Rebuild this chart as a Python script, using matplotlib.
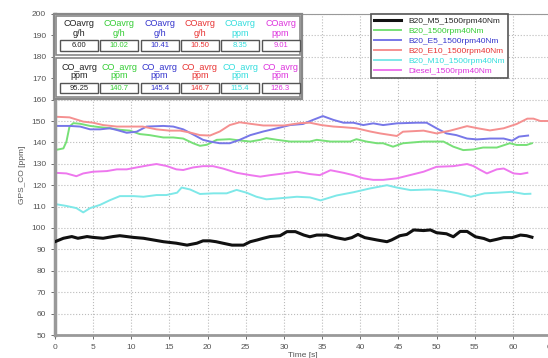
import numpy as np
import matplotlib
matplotlib.use('Agg')
import matplotlib.pyplot as plt
from matplotlib.patches import Rectangle

plt.rcParams['font.family'] = ['Liberation Sans', 'DejaVu Sans']

W, H = 548, 358

## series (time s, GPS_CO ppm)
t_m5 = [0, 1.1, 2.2, 3, 4.2, 5, 6.3, 7.6, 8.5, 9.4, 10.3, 11.6, 12.9, 14.2, 15.9, 17.3, 18.6, 19.4, 20.3, 21.1, 22, 23.2,
        24.7, 25.6, 26.5, 27.3, 28.2, 29.5, 30.4, 31.5, 32.6, 33.4, 34.3, 35.6, 36.8, 38, 38.9, 39.7, 40.6, 42.2, 43.5,
        44.1, 45.2, 46.1, 47, 48.3, 49.2, 50, 51.3, 52.2, 53.1, 54, 55.1, 56.2, 57, 57.9, 58.8, 59.9, 61, 61.8, 62.5]
co_m5 = [93.6, 95.2, 96, 95.2, 96, 95.6, 95.2, 96, 96.4, 96, 95.6, 95.2, 94.4, 93.6, 92.9, 92, 92.9, 94, 94, 93.6, 92.9, 92,
         92, 93.6, 94.4, 95.2, 96, 96.4, 98.3, 98.3, 96.7, 95.9, 96.7, 96.7, 95.5, 94.7, 95.5, 97, 95.5, 94.4, 93.6,
         94.4, 96.4, 97, 99.1, 98.8, 99.1, 97.8, 97.3, 95.9, 98.4, 98.4, 95.9, 95.1, 94, 94.7, 95.5, 95.5, 96.7, 96.4, 95.7]

t_b20 = [0, 1.1, 1.5, 1.9, 2.4, 3.3, 4.6, 5.9, 7.2, 8.5, 9.8, 11.1, 12.4, 14.2, 15.5, 16.8, 18.1, 19, 19.9, 21.2, 22.9,
         24.2, 25.6, 26.9, 27.7, 29.1, 30.8, 33.4, 34.3, 36.1, 38.7, 39.5, 40.8, 42.2, 43, 44.3, 45.6, 48.3, 50.9, 52.2,
         53.5, 54.8, 56.1, 57.9, 59.6, 60.5, 61.8, 62.5]
co_b20 = [136.4, 137.2, 140.4, 147.4, 149, 148.7, 147.7, 147.1, 146.6, 145.9, 145.5, 143.9, 143.4, 142.3, 142.3, 141.8,
          139.6, 138.4, 138.9, 141.2, 141.5, 140.9, 140.4, 141.2, 142, 141.2, 140.4, 140.4, 141.2, 140.4, 140.4, 141.5,
          140.4, 139.6, 139.6, 138, 139.6, 140.4, 140.4, 138, 136.4, 136.7, 137.6, 137.6, 139.6, 138.8, 138.8, 139.6]

t_e5 = [0, 1.9, 3.3, 4.6, 5.9, 7.2, 8.1, 9.4, 10.7, 12, 14.2, 15.5, 16.8, 18.1, 19.4, 20.3, 21.6, 22.9, 24.2, 25.6, 27.3,
        29.1, 30.8, 32.5, 33.8, 35.1, 36.5, 37.8, 39.1, 40.4, 41.7, 43, 44.8, 47.4, 48.7, 50, 51.3, 52.6, 54, 55.3, 57,
        58.8, 59.9, 60.8, 62]
co_e5 = [147.7, 147.7, 147.4, 146.1, 146.1, 146.6, 145.8, 144.5, 145, 147.4, 147.7, 147.4, 146.1, 143.7, 141.2, 140.4,
         139.6, 139.6, 141.2, 143.4, 145.1, 146.6, 148.1, 148.6, 150.5, 152.3, 150.5, 149.2, 149.2, 148.1, 148.9, 148.1,
         148.9, 149.2, 149.2, 146.6, 144.2, 143.4, 141.8, 141.4, 141.8, 141.8, 140.8, 142.7, 143.2]

t_e10 = [0, 1.9, 3.7, 5, 6.3, 8.1, 10.2, 11.5, 13.3, 15, 16.4, 17.7, 19, 20.3, 21.6, 22.9, 24.2, 25.6, 27.3, 30, 32.1,
         33.4, 34.9, 36.5, 37.8, 39.5, 41.3, 42.6, 44.8, 45.6, 48.3, 50, 51.8, 54, 55.4, 57, 58.8, 60.5, 61.9, 62.7,
         63.6, 65]
co_e10 = [152, 151.7, 149.7, 149.2, 148.1, 147.4, 147.4, 147.4, 146.1, 145.5, 145.5, 144.6, 143.4, 143.2, 145.1, 148.1,
          149.4, 148.7, 147.9, 147.9, 149, 149.2, 148.1, 147.4, 147.1, 146.6, 145.1, 144.2, 143, 145, 145.5, 144.2, 145.5,
          147.6, 146.6, 145.6, 146.6, 148.6, 151.1, 151.1, 150, 150]

t_m10 = [0, 1.5, 2.8, 3.7, 4.6, 5.9, 7.2, 8.5, 10.3, 11.6, 13.3, 14.6, 16, 16.6, 17.7, 19, 20.8, 22.5, 23.8, 25.1, 26.4,
         27.7, 29.5, 31.7, 33.4, 34.8, 36.9, 39.1, 41.3, 43.5, 44.8, 46.6, 49.2, 51, 52.8, 54.5, 56.3, 58, 59.8, 61.5,
         62.3]
co_m10 = [111.2, 110.3, 109.3, 107.3, 109.3, 110.8, 113, 114.9, 114.9, 114.6, 115.4, 115.4, 116.5, 118.9, 118, 115.9,
          116.2, 116.2, 117.8, 116.5, 114.6, 113.4, 113.9, 114.6, 114.3, 112.9, 115.2, 116.7, 118.5, 120, 118.9, 117.7,
          118, 117.4, 116.2, 114.6, 116.2, 116.5, 116.9, 115.9, 116]

t_dsl = [0, 1.5, 2.8, 3.7, 5, 6.8, 8.1, 9.4, 10.7, 12.4, 13.3, 14.6, 15.9, 16.8, 18.1, 19.4, 20.7, 22, 23.8, 25.6, 26.9,
         28.2, 30, 31.7, 33.4, 34.7, 36.1, 37.8, 39.1, 40.4, 41.7, 43, 44.8, 46.5, 48.3, 50, 52.2, 54, 54.8, 55.7, 56.6,
         57.9, 58.8, 60.1, 61, 61.9]
co_dsl = [125.8, 125.5, 124.2, 125.5, 126.3, 126.6, 127.4, 127.4, 128.3, 129.4, 129.9, 129, 127.4, 127.1, 128.3, 128.9,
          128.9, 127.8, 125.8, 124.7, 124, 124.7, 125.5, 126.3, 125.2, 124.7, 127, 125.8, 124.7, 123.2, 122.5, 122.5, 123.2,
          124.7, 126.3, 128.6, 128.9, 129.9, 129, 127.2, 125.5, 127.4, 127.8, 125.5, 125.2, 125.8]

labels = ['B20_M5_1500rpm40Nm', 'B20_1500rpm40Nm', 'B20_E5_1500rpm40Nm',
          'B20_E10_1500rpm40Nm', 'B20_M10_1500rpm40Nm', 'Diesel_1500rpm40Nm']
line_cols = ['#111111', '#77e077', '#7777e8', '#f59090', '#7ee8e8', '#ee77ee']
text_cols = ['#222222', '#33cc33', '#3333cc', '#e83333', '#33dddd', '#dd33dd']
co_gh = ['6.00', '10.02', '10.41', '10.50', '8.35', '9.01']
co_ppm = ['95.25', '140.7', '145.4', '146.7', '115.4', '126.3']
gh_units = ['g/h', 'g/h', 'g/h', 'g/h', 'ppm', 'ppm']

fig = plt.figure(figsize=(W / 100, H / 100), dpi=100)
ax = fig.add_axes([55 / W, (H - 335) / H, 496 / W, 321 / H])

series = [(t_m5, co_m5), (t_b20, co_b20), (t_e5, co_e5), (t_e10, co_e10), (t_m10, co_m10), (t_dsl, co_dsl)]
for i, (t, v) in enumerate(series):
    ax.plot(t, v, color=line_cols[i], lw=2.2 if i == 0 else 1.4, label=labels[i], zorder=3 if i == 0 else 2)

ax.set_xlim(0, 65)
ax.set_ylim(50, 200)
ax.set_xticks(np.arange(0, 66, 5))
ax.set_yticks(np.arange(50, 201, 10))
ax.grid(True, color='#bbbbbb', ls=':', lw=0.8)
ax.tick_params(labelsize=6, colors='#555555', length=3, width=0.6)
for s in ax.spines.values():
    s.set_color('#999999')
ax.spines['left'].set_linewidth(2.5)
ax.spines['bottom'].set_linewidth(2.0)
ax.spines['top'].set_linewidth(0.8)
ax.set_ylabel('GPS_CO [ppm]', fontsize=6, color='#555555', labelpad=4)
ax.set_xlabel('Time [s]', fontsize=6, color='#555555', labelpad=1)

leg = ax.legend(loc='upper left', bbox_to_anchor=(371 / W, 1 - 14 / H), bbox_transform=fig.transFigure,
                fontsize=6, frameon=True, fancybox=False, edgecolor='#555555', framealpha=1,
                handlelength=3.2, labelspacing=0.25, borderaxespad=0, borderpad=0.4, handletextpad=0.9)
leg.get_frame().set_linewidth(1.2)
for txt, c in zip(leg.get_texts(), text_cols):
    txt.set_color(c)


##helper for pixel positions (top-left origin)
def fx(x):
    return x / W


def fy(y):
    return 1 - y / H


def box(x0, y0, x1, y1, lw=1.0, ec='#777777'):
    fig.patches.append(Rectangle((fx(x0), fy(y1)), fx(x1 - x0), (y1 - y0) / H, transform=fig.transFigure,
                                 facecolor='white', edgecolor=ec, lw=lw, zorder=5))


box(54, 14, 302, 99, lw=1.6, ec='#888888')
box(56, 16, 300, 55, lw=1.2, ec='#888888')
box(56, 58, 300, 97, lw=1.2, ec='#888888')

for i in range(6):
    cx = 79 + 40.3 * i
    c = text_cols[i]
    fig.text(fx(cx), fy(24), 'COavrg', color=c, fontsize=6.5, ha='center', va='center', zorder=6)
    fig.text(fx(cx), fy(33), gh_units[i], color=c, fontsize=6.5, ha='center', va='center', zorder=6)
    box(cx - 19, 40, cx + 19, 51, lw=1.0, ec='#555555')
    fig.text(fx(cx), fy(45.5), co_gh[i], color=c, fontsize=5.5, ha='center', va='center', zorder=6)

    fig.text(fx(cx), fy(67), 'CO_avrg', color=c, fontsize=6.5, ha='center', va='center', zorder=6)
    fig.text(fx(cx), fy(76), 'ppm', color=c, fontsize=6.5, ha='center', va='center', zorder=6)
    box(cx - 19, 83, cx + 19, 93, lw=1.0, ec='#555555')
    fig.text(fx(cx), fy(88), co_ppm[i], color=c, fontsize=5.5, ha='center', va='center', zorder=6)

fig.savefig('out.png', dpi=100)
